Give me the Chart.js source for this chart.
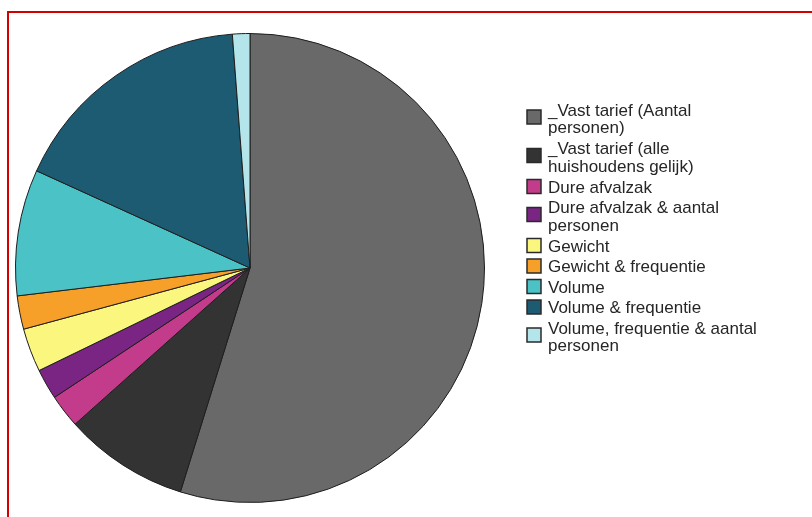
<!DOCTYPE html>
<html lang="nl">
<head>
    <meta charset="UTF-8">
    <script src="https://cdn.jsdelivr.net/npm/chart.js"></script>
    <title>Afvaltarieven</title>
    <style>
        body { margin: 0; background: #fff; }
        #wrap { position: relative; width: 812px; height: 517px; }
    </style>
</head>
<body>
    <div id="wrap">
        <canvas id="myChart"></canvas>
    </div>
    <script>
        // legend labels, split over lines as in the picture
        const labels = [
            ['_Vast tarief (Aantal', 'personen)'],
            ['_Vast tarief (alle', 'huishoudens gelijk)'],
            ['Dure afvalzak'],
            ['Dure afvalzak & aantal', 'personen'],
            ['Gewicht'],
            ['Gewicht & frequentie'],
            ['Volume'],
            ['Volume & frequentie'],
            ['Volume, frequentie & aantal', 'personen']
        ];
        // share per tariff system (%)
        const shares = [54.8, 8.6, 2.3, 2.1, 3.0, 2.3, 8.7, 17.0, 1.2];
        const colors = ['#696969', '#333333', '#c23c8b', '#7a2483', '#fbf67d',
                        '#f6a02a', '#4bc2c6', '#1d5b73', '#b4e5eb'];

        const frame = {
            id: 'frame',
            beforeDraw(chart) {
                const c = chart.ctx;
                c.save();
                c.fillStyle = '#fff';
                c.fillRect(0, 0, chart.width, chart.height);
                c.strokeStyle = '#d40000';
                c.lineWidth = 2;
                c.beginPath();
                c.moveTo(8, chart.height);
                c.lineTo(8, 12);
                c.lineTo(chart.width, 12);
                c.stroke();
                c.restore();
            }
        };

        const sideLegend = {
            id: 'sideLegend',
            afterDraw(chart) {
                const c = chart.ctx;
                const lineH = 17.5;
                let top = 102;
                c.save();
                c.font = '17px "Liberation Sans", Arial, sans-serif';
                c.textBaseline = 'middle';
                chart.data.labels.forEach((lines, i) => {
                    const boxMid = lines.length > 1 ? top + 15 : top + 7.5;
                    c.fillStyle = chart.data.datasets[0].backgroundColor[i];
                    c.fillRect(527, boxMid - 7, 14, 14);
                    c.strokeStyle = '#2a2a2a';
                    c.lineWidth = 1.5;
                    c.strokeRect(527, boxMid - 7, 14, 14);
                    c.fillStyle = '#262626';
                    lines.forEach((t, k) => {
                        c.fillText(t, 548, top + 9 + k * lineH);
                    });
                    top += lines.length > 1 ? 38.5 : 20.5;
                });
                c.restore();
            }
        };

        const ctx = document.getElementById('myChart');
        const chart = new Chart(ctx, {
            type: 'pie',
            data: {
                labels: labels,
                datasets: [{
                    data: shares,
                    backgroundColor: colors,
                    borderColor: '#1e1e1e',
                    borderWidth: 1,
                    hoverOffset: 0
                }]
            },
            options: {
                responsive: true,
                maintainAspectRatio: false,
                animation: false,
                layout: {
                    padding: { left: 15, top: 33, right: 327, bottom: 14 }
                },
                plugins: {
                    legend: { display: false },
                    tooltip: { enabled: false }
                }
            },
            plugins: [frame, sideLegend]
        });
    </script>
</body>
</html>
